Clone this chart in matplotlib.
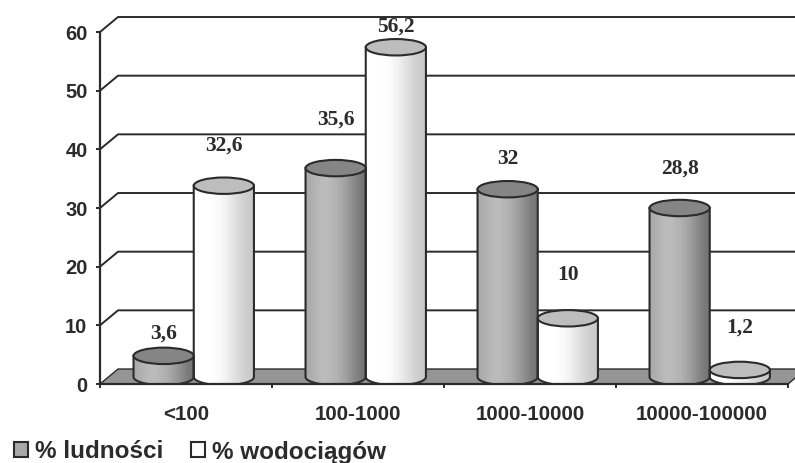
import matplotlib
matplotlib.use('Agg')
import matplotlib.pyplot as plt
from matplotlib.patches import Ellipse, Patch, Polygon
import numpy as np

categories = ['<100', '100-1000', '1000-10000', '10000-100000']
ludnosci = [3.6, 35.6, 32, 28.8]
wodociagi = [32.6, 56.2, 10, 1.2]
ludnosci_labels = ['3,6', '35,6', '32', '28,8']
wodociagi_labels = ['32,6', '56,2', '10', '1,2']
y_ticks = [0, 10, 20, 30, 40, 50, 60]

# how far above the bar top the scanned labels sit, in pixels
ludnosci_lift = [22, 49, 30, 39]
wodociagi_lift = [40, 21, 43, 42]

INK = '#2b2b2b'
DEPTH_X = 18 / 172
DEPTH_Y = 15 / 5.87
BAR_W = 0.35
BAR_SHIFT = 0.045
BASE = 1.2
CAP_H = 2.8

plt.rcParams['font.family'] = ['Liberation Sans', 'DejaVu Sans']

fig = plt.figure(figsize=(7.95, 4.63), dpi=100)
ax = fig.add_axes([100 / 795, (463 - 384) / 463, 688 / 795, 352 / 463])
ax.set_facecolor('none')


def draw_cylinder(x_left, value, shades, cap_color):
    cx = x_left + BAR_W / 2
    top = value + BASE
    t = np.linspace(np.pi, 2 * np.pi, 60)
    bottom_x = cx + BAR_W / 2 * np.cos(t)
    bottom_y = BASE + CAP_H / 2 * np.sin(t)
    xs = np.r_[x_left, bottom_x, x_left + BAR_W]
    ys = np.r_[top, bottom_y, top]
    body = Polygon(np.c_[xs, ys], closed=True, fc='none', ec=INK, lw=1.5, zorder=3)
    ax.add_patch(body)
    im = ax.imshow(np.array([shades]), extent=[x_left, x_left + BAR_W, BASE - CAP_H, top],
                   cmap='gray', vmin=0, vmax=255, aspect='auto', interpolation='bicubic', zorder=2.9)
    im.set_clip_path(body)
    ax.add_patch(Ellipse((cx, top), BAR_W, CAP_H, fc=cap_color, ec=INK, lw=1.5, zorder=3.1))


def bar_label(x_left, value, text, lift):
    ax.annotate(text, (x_left + BAR_W / 2, value + BASE), xytext=(0, lift * 0.72),
                textcoords='offset points', ha='center', va='center', fontsize=15.5,
                fontweight='bold', family='Liberation Serif', color=INK, zorder=5,
                annotation_clip=False)


# floor and back wall
ax.add_patch(Polygon([(0, 0), (DEPTH_X, DEPTH_Y), (4 + DEPTH_X, DEPTH_Y), (4, 0)], closed=True,
                     fc='#959595', ec=INK, lw=1.0, clip_on=False, zorder=1))
for y in y_ticks[1:]:
    ax.plot([0, DEPTH_X, 4 + DEPTH_X], [y, y + DEPTH_Y, y + DEPTH_Y], color=INK, lw=1.4,
            clip_on=False, zorder=1)

for i in range(len(categories)):
    center = i + 0.5 + BAR_SHIFT
    draw_cylinder(center - BAR_W, ludnosci[i], [170, 190, 185, 170, 145, 115], '#858585')
    draw_cylinder(center, wodociagi[i], [255, 255, 250, 235, 215, 200], '#bdbdbd')
    bar_label(center - BAR_W, ludnosci[i], ludnosci_labels[i], ludnosci_lift[i])
    bar_label(center, wodociagi[i], wodociagi_labels[i], wodociagi_lift[i])

ax.set_xlim(0, len(categories))
ax.set_ylim(0, 60)
for side in ['top', 'right']:
    ax.spines[side].set_visible(False)
for side in ['left', 'bottom']:
    ax.spines[side].set_color(INK)
    ax.spines[side].set_linewidth(1.6)
    ax.spines[side].set_zorder(4)

ax.set_yticks(y_ticks)
ax.tick_params(axis='y', length=3, width=1.4, color=INK, labelsize=14.5, labelcolor=INK, pad=6)
for lab in ax.get_yticklabels():
    lab.set_fontweight('bold')

ax.set_xticks(range(len(categories) + 1))
ax.set_xticklabels([])
ax.tick_params(axis='x', which='major', length=3, width=1.4, color=INK)
ax.set_xticks(np.arange(len(categories)) + 0.5, minor=True)
ax.set_xticklabels(categories, minor=True, fontsize=14.8, fontweight='bold', color=INK)
ax.tick_params(axis='x', which='minor', length=0, pad=15)

handles = [Patch(fc='#a8a8a8', ec=INK, lw=1.5), Patch(fc='white', ec=INK, lw=1.5)]
fig.legend(handles, ['% ludności', '% wodociągów'], loc='center left',
           bbox_to_anchor=(14 / 795, 1 - 452 / 463), frameon=False, ncol=2, borderpad=0,
           borderaxespad=0, handlelength=0.58, handleheight=0.58, handletextpad=0.3,
           columnspacing=1.1, labelcolor=INK, prop={'size': 17.5, 'weight': 'bold',
                                                    'family': 'Liberation Sans'})

fig.savefig('out.png', dpi=100)
